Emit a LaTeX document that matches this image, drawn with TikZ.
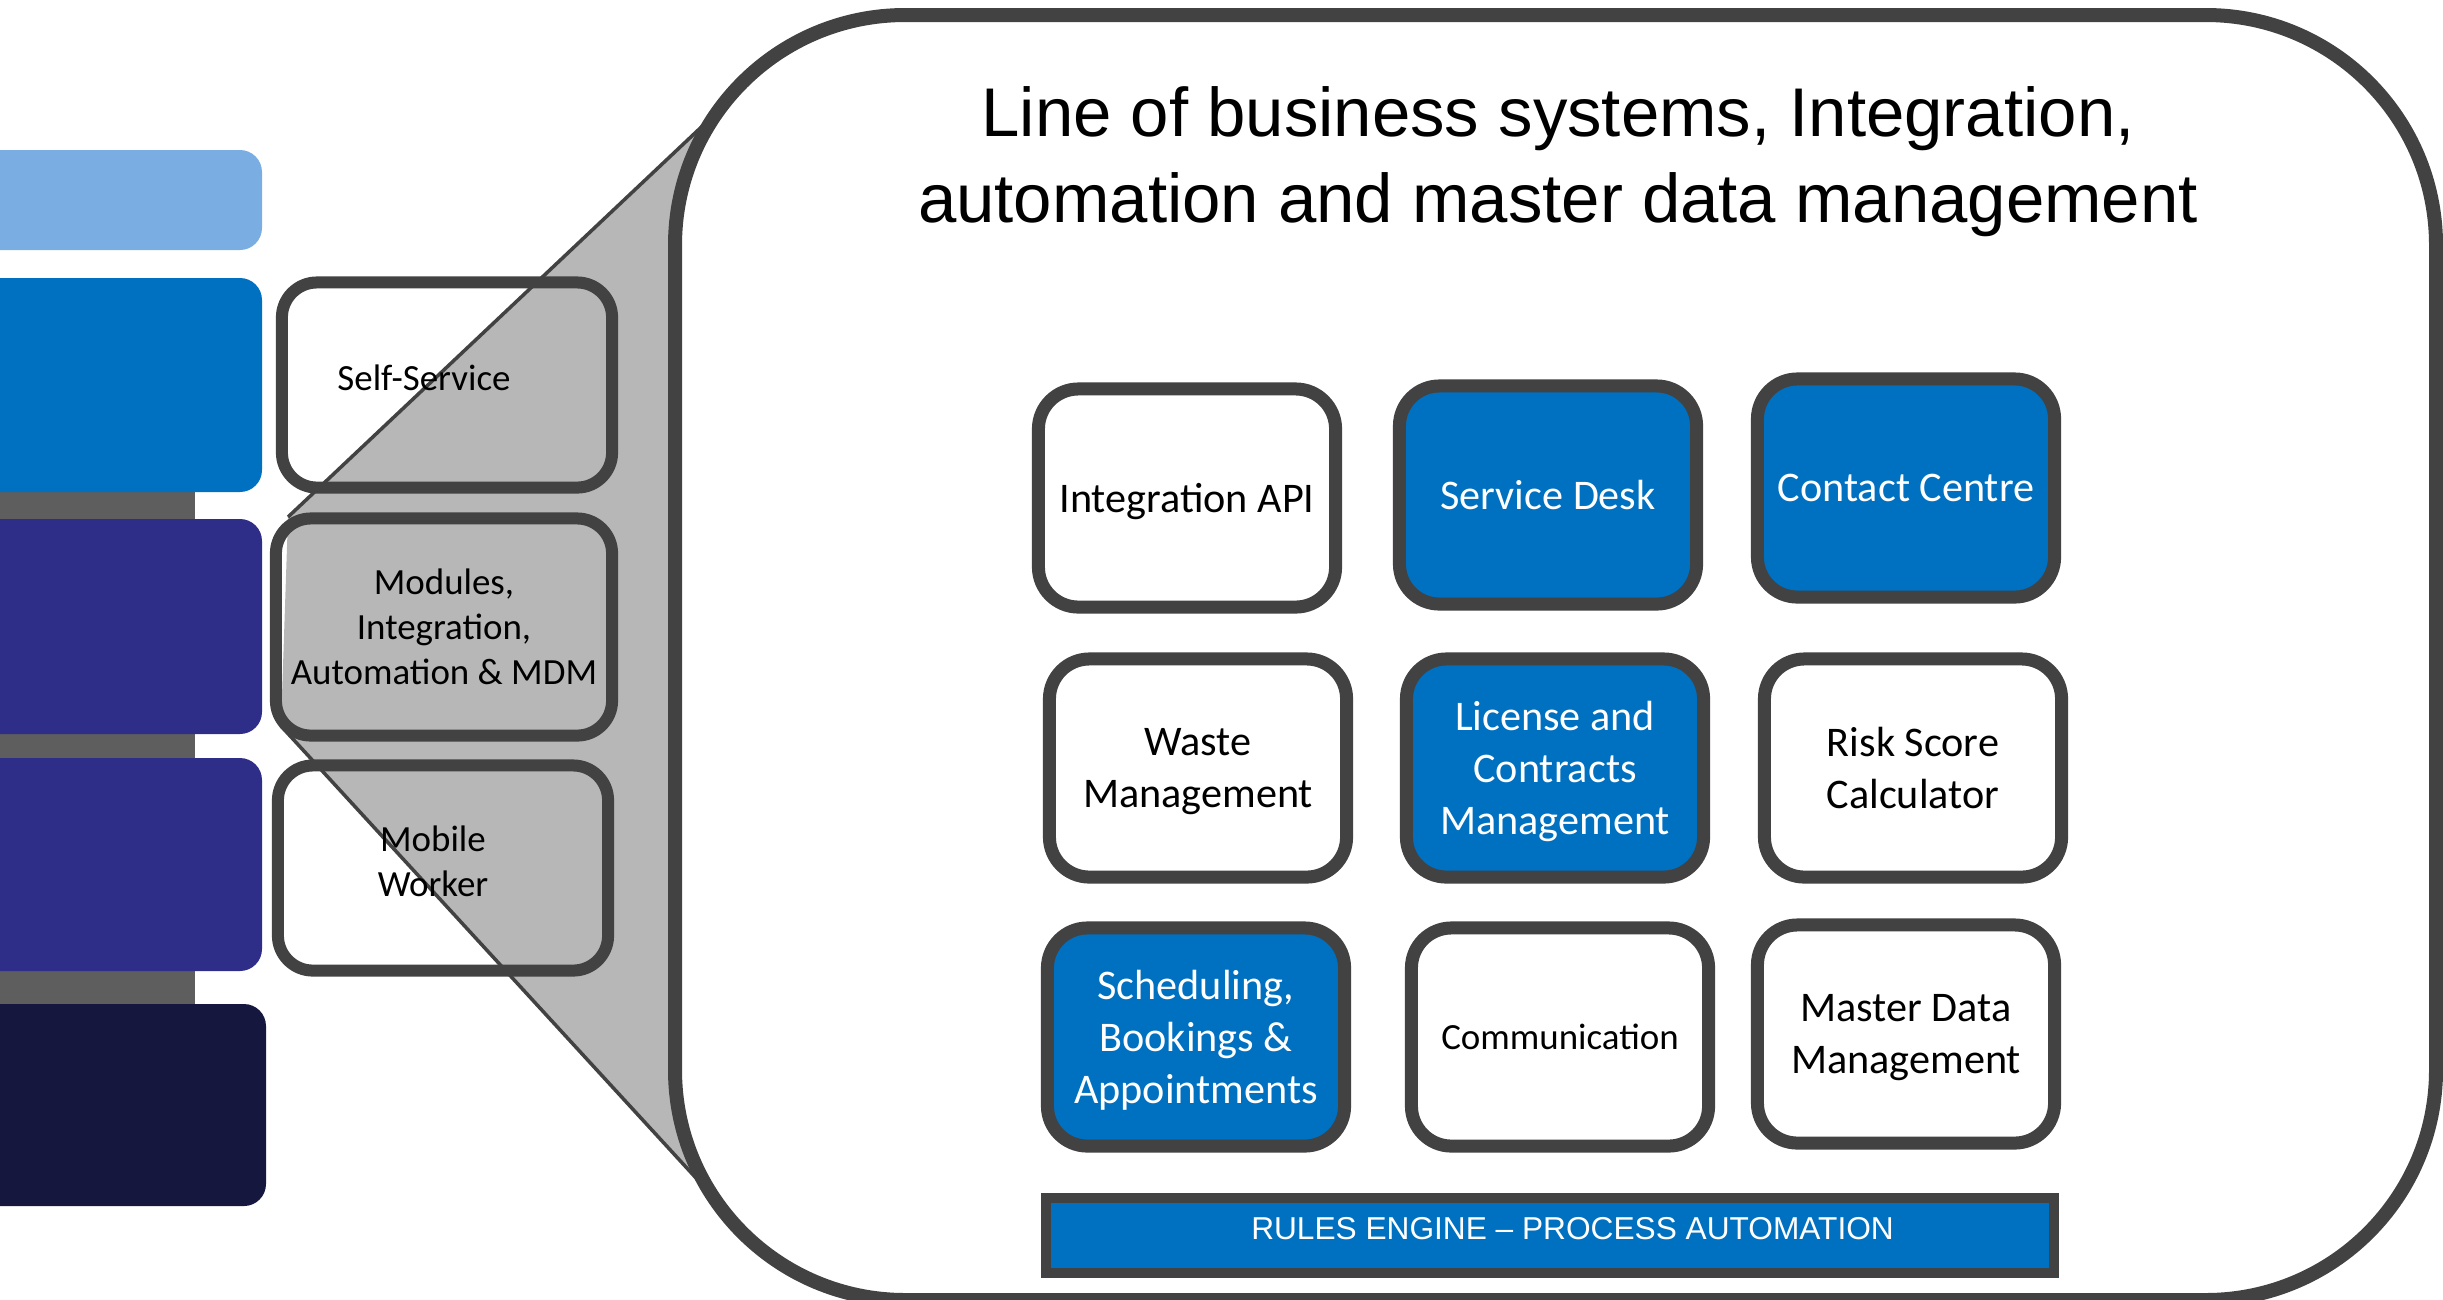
\documentclass[tikz,border=0pt]{standalone}
\usepackage{fontspec}
\setmainfont{Carlito}
\newfontfamily\arialfont{Liberation Sans}
\definecolor{barlight}{HTML}{7AADE2}
\definecolor{barblue}{HTML}{0070C0}
\definecolor{barviolet}{HTML}{2E2D88}
\definecolor{barnavy}{HTML}{16173F}
\definecolor{stripgrey}{HTML}{5E5E5E}
\definecolor{edgegrey}{HTML}{424242}
\definecolor{funnelgrey}{HTML}{B7B7B7}
\begin{document}
\begin{tikzpicture}[x=0.01cm, y=-0.01cm,
    layerbox/.style={draw=edgegrey, line width=0.12cm, rounded corners=0.35cm,
        minimum width=3.3cm, minimum height=2.05cm, align=center,
        font=\fontsize{10.5}{12.8}\selectfont},
    modbox/.style={draw=edgegrey, fill=white, line width=0.13cm, rounded corners=0.4cm,
        minimum width=2.97cm, minimum height=2.18cm, align=center, text depth=0pt,
        font=\fontsize{12}{14.8}\selectfont},
    modblue/.style={modbox, fill=barblue, text=white}]
                \def\r{0.22cm};
                \useasboundingbox (0,0) rectangle (2443,1299);
                \begin{scope}
                \clip (0,0) rectangle (2443,1299);
                % left column
                \fill[stripgrey] (-40,480) rectangle (195,1010);
                \fill[barlight, rounded corners=\r] (-40,150) rectangle (262,250);
                \fill[barblue, rounded corners=\r] (-40,278) rectangle (262,492);
                \fill[barviolet, rounded corners=\r] (-40,519) rectangle (262,734);
                \fill[barviolet, rounded corners=\r] (-40,758) rectangle (262,971);
                \fill[barnavy, rounded corners=\r] (-40,1004) rectangle (266,1206);
                % funnel into the big frame
                \fill[funnelgrey] (730,100) -- (288,517) -- (281,726) -- (730,1215) -- cycle;
                \draw[edgegrey, line width=0.035cm] (730,100) -- (288,517);
                \draw[edgegrey, line width=0.035cm] (281,726) -- (730,1215);
                \draw[edgegrey, fill=white, line width=0.14cm, rounded corners=2.3cm] (675,15) rectangle (2436,1300);
                \end{scope}

                \node[layerbox, text depth=0.14cm] (selfserv) at (447,385) {\hspace*{-0.46cm}Self-Service};
                \node[layerbox, minimum width=3.36cm, minimum height=2.17cm] (modules) at (444,627) {Modules,\\Integration,\\Automation \& MDM};
                \node[layerbox, text depth=0.14cm] (mobile) at (443,868) {\hspace*{-0.2cm}Mobile\\\hspace*{-0.2cm}Worker};

                \node[font=\arialfont\fontsize{19.6}{24.4}\selectfont, align=center] (title) at (1558,162)
                    {Line of business systems, Integration,\\automation and master data management};

                \node[modbox] (intapi) at (1187,498) {Integration API};
                \node[modblue] (servdesk) at (1548,495) {Service Desk};
                \node[modblue] (contact) at (1906,488) {Contact Centre};
                \node[modbox, text depth=-0.14cm] (waste) at (1198,768) {Waste\\Management};
                \node[modblue] (license) at (1555,768) {License and\\Contracts\\Management};
                \node[modbox] (risk) at (1913,768) {Risk Score\\Calculator};
                \node[modblue] (sched) at (1196,1037) {Scheduling,\\Bookings \&\\Appointments};
                \node[modbox, font=\fontsize{10.5}{12.8}\selectfont] (comm) at (1560,1037) {Communication};
                \node[modbox] (mdm) at (1906,1034) {Master Data\\Management};

                \node[draw=edgegrey, fill=barblue, line width=0.1cm, minimum width=10.07cm, minimum height=0.75cm,
                    text depth=0.14cm, text=white, font=\arialfont\fontsize{9}{11}\selectfont] (rules) at (1550,1235)
                    {\hspace*{0.45cm}RULES ENGINE – PROCESS AUTOMATION};
            \end{tikzpicture}
\end{document}
